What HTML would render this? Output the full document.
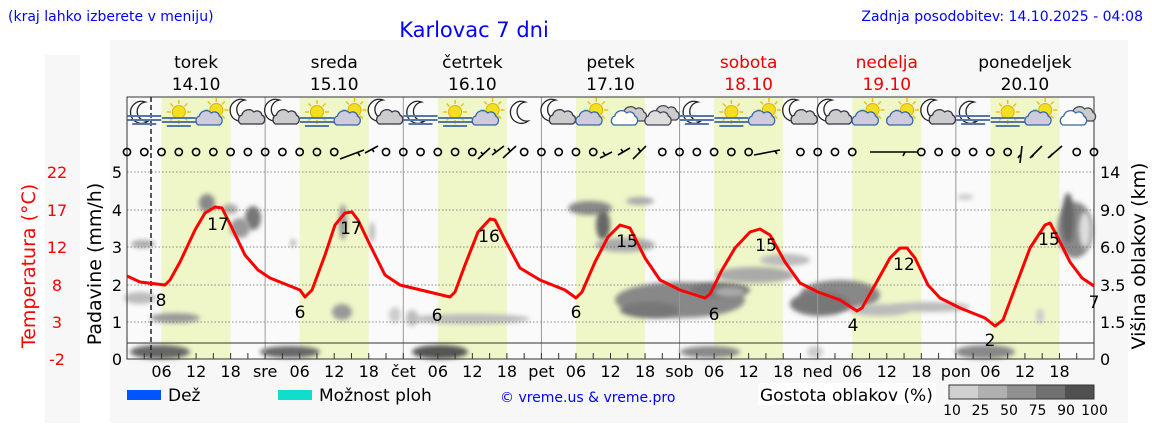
<!DOCTYPE html>
<html><head><meta charset="utf-8"><style>
body{margin:0;background:#fff;width:1152px;height:443px;overflow:hidden}
svg{display:block;font-family:"DejaVu Sans","Liberation Sans",sans-serif}
</style></head><body>
<svg id="s" width="1152" height="443" xmlns="http://www.w3.org/2000/svg">
<defs>
<filter id="bl" x="-50%" y="-50%" width="200%" height="200%"><feGaussianBlur stdDeviation="2.5"/></filter>
</defs>
<rect x="45" y="55" width="35" height="368" fill="#f7f7f7"/>
<rect x="110" y="40" width="1018" height="383" fill="#f7f7f7"/>
<rect x="127" y="97" width="967" height="262" fill="#fafafa"/>
<g id="g"></g>
</svg>
<script>
const g=document.getElementById('g');let h='';
const X0=127,D=967/7,H=D/24;
for(let d=0;d<7;d++){h+=`<rect x="${X0+d*D+6*H}" y="97" width="${12*H}" height="262" fill="#eff7c8"/>`;}
const bl=[[143,244,12,4,'#aaa'],[140,298,16,6,'#bbb'],[175,318,25,5,'#999'],[207,203,8,9,'#888'],[230,209,8,5,'#aaa'],[253,218,8,12,'#777'],[240,228,10,10,'#999'],[293,243,3,4,'#bbb'],[342,312,10,8,'#999'],[343,222,4,18,'#999'],[372,232,3,10,'#bbb'],[395,315,6,8,'#ccc'],[412,318,6,8,'#bbb'],[470,319,60,5,'#bbb'],[590,208,22,7,'#888'],[603,225,7,15,'#666'],[640,201,14,4,'#aaa'],[625,245,30,7,'#aaa'],[680,300,65,18,'#888'],[720,290,30,8,'#777'],[650,310,30,8,'#777'],[785,260,25,6,'#bbb'],[755,275,40,8,'#aaa'],[730,292,15,5,'#aaa'],[840,295,40,15,'#888'],[820,304,30,12,'#777'],[880,310,30,6,'#bbb'],[930,307,40,5,'#bbb'],[965,197,8,3,'#ccc'],[1040,316,4,8,'#ccc'],[1075,230,18,28,'#888'],[1068,218,6,25,'#666'],[1085,230,6,18,'#ddd'],
[160,352,30,7,'#666'],[290,352,30,6,'#666'],[440,352,28,7,'#555'],[710,352,30,6,'#888'],[815,352,8,6,'#ccc'],[985,352,30,7,'#888']];
bl.forEach(b=>h+=`<ellipse cx="${b[0]}" cy="${b[1]}" rx="${b[2]}" ry="${b[3]}" fill="${b[4]}" filter="url(#bl)"/>`);
[172,210,247,285,322].forEach(y=>h+=`<line x1="127" x2="1094" y1="${y}" y2="${y}" stroke="#666" stroke-dasharray="1.5,2" stroke-width="0.8"/>`);
for(let d=1;d<7;d++)h+=`<line x1="${X0+d*D}" x2="${X0+d*D}" y1="97" y2="359" stroke="#999" stroke-width="1"/>`;
h+=`<line x1="127" x2="1094" y1="343" y2="343" stroke="#333" stroke-width="1"/>`;
h+=`<rect x="127" y="97" width="967" height="262" fill="none" stroke="#333" stroke-width="1"/>`;
h+=`<line x1="151" x2="151" y1="97" y2="359" stroke="#222" stroke-width="1.5" stroke-dasharray="5,3"/>`;
const dn=['','sre','čet','pet','sob','ned','pon'];
for(let d=0;d<7;d++)for(let k=0;k<8;k++){const x=X0+d*D+k*3*H;if(k>0||d>0)h+=`<line x1="${x}" x2="${x}" y1="353" y2="359" stroke="#333"/>`;}
for(let d=0;d<7;d++){const x=X0+d*D;
 if(d>0)h+=`<text x="${x}" y="377" font-size="16" text-anchor="middle">${dn[d]}</text>`;
 [6,12,18].forEach(t=>h+=`<text x="${x+t*H}" y="377" font-size="16" text-anchor="middle">${t<10?'0'+t:t}</text>`);}
const barbs=[[340,380],[475,518],[598,656],[752,787],[867,920],[1018,1068]];
for(let k=0;k<=56;k++){const x=X0+k*3*H;if(barbs.some(b=>x>b[0]+2&&x<b[1]-2))continue;h+=`<circle cx="${x}" cy="152" r="3.6" fill="none" stroke="#000" stroke-width="1.6"/>`;}
h+=`<path d="M340 159 L364 150 M358 153 L360 156 M365 153 L378 146 M372 149 L374 152 M478 159 L490 148 M483 155 L481 152 M492 155 L504 146 M496 152 L494 149 M503 158 L516 146 M510 151 L508 148 M600 158 L612 152 M605 155 L603 152 M618 155 L630 148 M623 152 L621 149 M633 159 L646 146 M640 151 L638 148 M754 155 L780 150 M775 151 L777 154 M870 152 L918 152 M905 152 L903 156 M1020 163 L1022 146 M1020 155 L1018 158 M1030 158 L1042 146 M1032 157 L1034 154 M1048 158 L1062 146 M1050 157 L1052 154" stroke="#000" stroke-width="1.6" fill="none"/>`;
function sun(x,y){let s=`<g stroke="#e8c020" stroke-width="1.5">`;for(let a=0;a<8;a++){const r=a*Math.PI/4;s+=`<line x1="${x+8*Math.cos(r)}" y1="${y+8*Math.sin(r)}" x2="${x+12*Math.cos(r)}" y2="${y+12*Math.sin(r)}"/>`;}return s+`</g><circle cx="${x}" cy="${y}" r="6.5" fill="#f2e020" stroke="#e0b010"/>`;}
function moon(x,y){return `<path d="M${x+3} ${y-11} A11 11 0 1 0 ${x+6} ${y+8} A9 9 0 1 1 ${x+3} ${y-11}Z" fill="#fff" stroke="#222" stroke-width="1.3"/>`;}
function cloud(x,y,c,st){return `<path d="M${x-11} ${y+6} a5 5 0 0 1 1-9 a7 7 0 0 1 12-3 a5 5 0 0 1 8 3 a5 5 0 0 1 0 9Z" fill="${c}" stroke="${st}" stroke-width="1.3"/>`;}
function fog(x,y){return `<g stroke="#5577aa" stroke-width="2"><line x1="${x-17}" x2="${x+17}" y1="${y}" y2="${y}"/><line x1="${x-17}" x2="${x+17}" y1="${y+4}" y2="${y+4}"/><line x1="${x-12}" x2="${x+12}" y1="${y+8}" y2="${y+8}"/></g>`;}
const T=['mf','sf','sc','mc','mc','sf','sc','mc','mf','sf','sc','m','mc','sc','cw','cc','mf','sf','sc','mc','mc','sc','sc','mc','mf','sf','sc','cw'];
T.forEach((t,i)=>{const x=X0+(i+0.5)*6*H,y=113;
 if(t=='mf')h+=moon(x-2,y)+fog(x,y+3);
 if(t=='sf')h+=sun(x,y-1)+fog(x,y+5);
 if(t=='sc')h+=sun(x+3,y-3)+cloud(x-4,y+6,'#ccd','#3366aa');
 if(t=='mc')h+=moon(x-6,y-2)+cloud(x+4,y+5,'#ccc','#334');
 if(t=='m')h+=moon(x-2,y);
 if(t=='cw')h+=cloud(x+6,y+2,'#ccc','#445')+cloud(x-3,y+6,'#fff','#3366aa');
 if(t=='cc')h+=cloud(x+4,y+1,'#ccc','#445')+cloud(x-4,y+6,'#ddd','#445');});
const p=[[127,276],[140,282],[165,285],[170,280],[180,262],[195,230],[205,213],[215,207],[222,208],[232,228],[245,255],[258,270],[270,278],[300,290],[305,297],[312,290],[325,255],[335,225],[345,213],[352,212],[358,220],[370,245],[385,275],[400,285],[450,297],[455,292],[465,265],[478,232],[490,219],[495,220],[505,240],[520,268],[540,280],[565,290],[576,298],[582,292],[595,262],[608,237],[620,225],[630,228],[645,258],[660,280],[680,290],[705,298],[710,294],[722,270],[735,248],[750,232],[760,229],[770,235],[785,262],[800,283],[818,292],[840,300],[857,311],[862,308],[875,285],[890,258],[900,248],[907,248],[915,258],[928,285],[940,298],[960,308],[985,318],[995,326],[1003,320],[1015,288],[1030,248],[1045,225],[1050,223],[1058,238],[1070,262],[1082,278],[1094,286]];
h+=`<polyline points="${p.map(a=>a.join(',')).join(' ')}" fill="none" stroke="#f00" stroke-width="3" stroke-linejoin="round"/>`;
[[161,300,8],[218,224,17],[300,312,6],[351,228,17],[437,315,6],[489,236,16],[576,312,6],[627,241,15],[714,314,6],[766,245,15],[853,325,4],[904,264,12],[990,340,2],[1049,239,15],[1094,302,7]].forEach(a=>h+=`<text x="${a[0]}" y="${a[1]+6}" font-size="17" text-anchor="middle">${a[2]}</text>`);
[[172,'5','22','14'],[210,'4','17','9.0'],[247,'3','12','6.0'],[285,'2','8','3.5'],[322,'1','3','1.5'],[359,'0','-2','0']].forEach(a=>{
 h+=`<text x="122" y="${a[0]+6}" font-size="16" text-anchor="end">${a[1]}</text>`;
 h+=`<text x="57" y="${a[0]+6}" font-size="16" text-anchor="middle" fill="#f00">${a[2]}</text>`;
 h+=`<text x="1100" y="${a[0]+6}" font-size="16">${a[3]}</text>`;});
h+=`<text transform="translate(35,266) rotate(-90)" font-size="19" fill="#f00" text-anchor="middle">Temperatura (°C)</text>`;
h+=`<text transform="translate(101,264) rotate(-90)" font-size="19" text-anchor="middle">Padavine (mm/h)</text>`;
h+=`<text transform="translate(1145,256) rotate(-90)" font-size="19" text-anchor="middle">Višina oblakov (km)</text>`;
h+=`<text x="8" y="21" font-size="14" fill="#00f">(kraj lahko izberete v meniju)</text>`;
h+=`<text x="474" y="37" font-size="21" fill="#00f" text-anchor="middle">Karlovac 7 dni</text>`;
h+=`<text x="1143" y="21" font-size="14" fill="#00f" text-anchor="end">Zadnja posodobitev: 14.10.2025 - 04:08</text>`;
const dnm=['torek','sreda','četrtek','petek','sobota','nedelja','ponedeljek'];
for(let d=0;d<7;d++){const x=X0+(d+0.5)*D,c=(d==4||d==5)?'#e00':'#000';
 h+=`<text x="${x}" y="68" font-size="17" text-anchor="middle" fill="${c}">${dnm[d]}</text><text x="${x}" y="90" font-size="17" text-anchor="middle" fill="${c}">${14+d}.10</text>`;}
h+=`<rect x="127" y="390" width="34" height="10" fill="#0055ff"/><text x="168" y="401" font-size="17">Dež</text>`;
h+=`<rect x="278" y="390" width="34" height="10" fill="#11ddcc"/><text x="319" y="401" font-size="17">Možnost ploh</text>`;
h+=`<text x="500" y="402" font-size="14" fill="#00f">© vreme.us &amp; vreme.pro</text>`;
h+=`<rect x="758" y="383" width="178" height="22" fill="#fff"/><text x="760" y="401" font-size="17">Gostota oblakov (%)</text>`;
['#d0d0d0','#b0b0b0','#909090','#707070','#505050'].forEach((c,i)=>h+=`<rect x="${949+i*29}" y="385" width="29" height="14" fill="${c}"/>`);
h+=`<rect x="949" y="385" width="145" height="14" fill="none" stroke="#333"/>`;
['10','25','50','75','90','100'].forEach((t,i)=>h+=`<text x="${952+i*28.5}" y="415" font-size="14" text-anchor="middle">${t}</text>`);
g.innerHTML=h;
</script>
</body></html>
